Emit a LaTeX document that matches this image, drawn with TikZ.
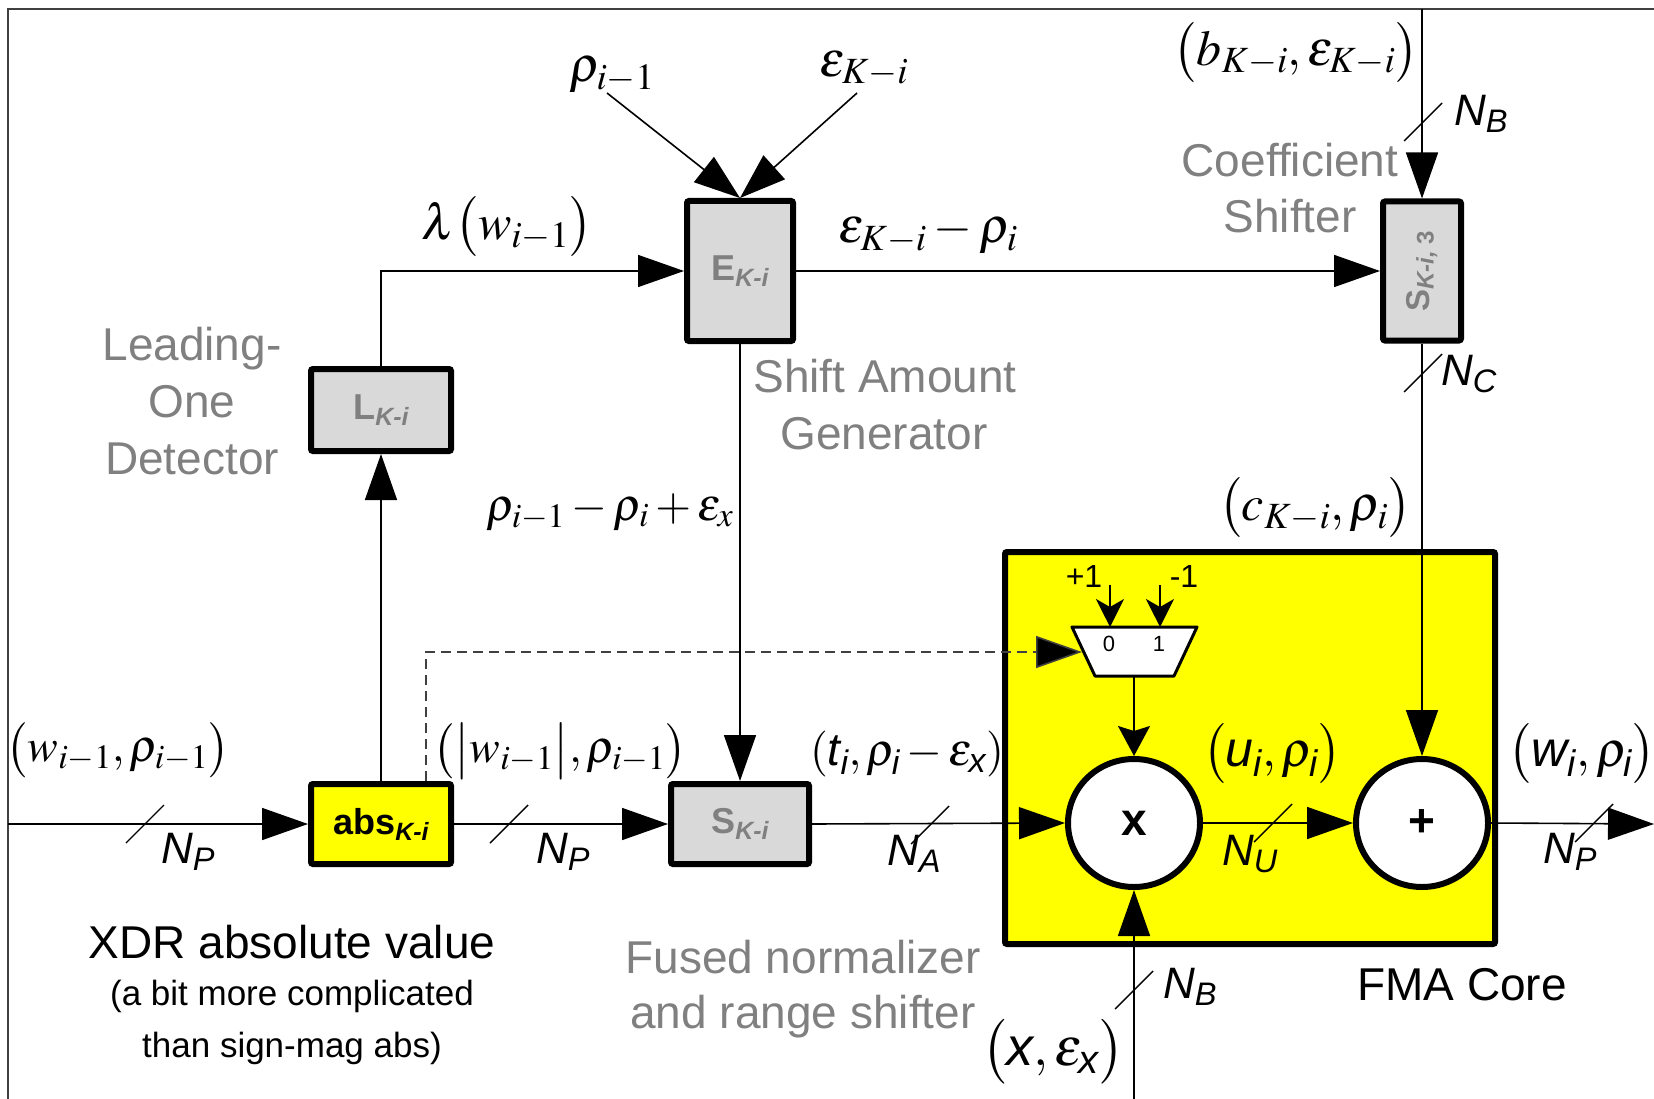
\documentclass[tikz,border=0pt]{standalone}
\usepackage{amsmath}
\usepackage{mathptmx}
\usepackage{fontspec}
\setmainfont{Liberation Sans}
\usetikzlibrary{arrows.meta,shapes.geometric}
\definecolor{boxgray}{HTML}{D9D9D9}
\definecolor{txtgray}{HTML}{808080}
\definecolor{fmayellow}{HTML}{FFFF00}
\definecolor{framegray}{HTML}{404040}
\newcommand{\blab}[2]{{\fontsize{36}{40}\selectfont\bfseries #1}\raisebox{-6pt}{\fontsize{25}{28}\selectfont\bfseries\itshape #2}}
\newcommand{\si}[1]{\textit{#1}}
\begin{document}
\begin{tikzpicture}[x=1pt,y=-1pt,
  wire/.style={line width=1.6pt},
  bigarrow/.style={wire,-{Triangle[length=46pt,width=32pt]}},
  midarrow/.style={wire,-{Stealth[length=30pt,width=32pt,inset=5pt]}},
  smallarrow/.style={wire,-{Stealth[length=28pt,width=28pt,inset=8pt]}},
  blk/.style={draw,line width=6pt,rounded corners=2pt,fill=boxgray,inner sep=0pt,text=txtgray},
  opnode/.style={draw,ellipse,line width=6pt,fill=white,minimum width=132pt,minimum height=128pt,inner sep=0pt,font=\fontsize{46}{50}\selectfont\bfseries},
  mlab/.style={font=\fontsize{50}{56}\selectfont,inner sep=0pt},
  slab/.style={font=\fontsize{46}{52}\selectfont,inner sep=0pt},
  tlab/.style={font=\fontsize{50}{56}\selectfont,inner sep=0pt},
  nlab/.style={font=\fontsize{44}{50}\selectfont,inner sep=0pt},
  gtxt/.style={font=\fontsize{46}{52}\selectfont,text=txtgray,anchor=base,inner sep=0pt},
  btxt/.style={font=\fontsize{46}{52}\selectfont,anchor=base,inner sep=0pt},
  stxt/.style={font=\fontsize{35}{40}\selectfont,anchor=base,inner sep=0pt},
  slash/.style={line width=1.4pt},
  dashwire/.style={line width=1.6pt,draw=framegray,dash pattern=on 10pt off 6pt,-{Triangle[length=46pt,width=32pt,fill=black]}}
]
\useasboundingbox (0,0) rectangle (1654,1099);
% frame
\coordinate (fTL) at (8,9);
\coordinate (fTR) at (1654,9);
\coordinate (fBL) at (8,1099);
\draw[line width=1.6pt,framegray] (fTR) -- (fTL) -- (fBL);

% FMA core
\node[draw,line width=6pt,fill=fmayellow,rounded corners=2pt,minimum width=490pt,minimum height=392pt,inner sep=0pt] (fma) at (1250,748) {};

% blocks
\node[blk,minimum width=106pt,minimum height=140pt] (E) at (740,271) {\blab{E}{K-i}};
\node[blk,minimum width=140pt,minimum height=82pt] (L) at (381,410) {\blab{L}{K-i}};
\node[blk,fill=fmayellow,text=black,minimum width=140pt,minimum height=80pt] (abs) at (381,824) {\blab{abs}{K-i}};
\node[blk,minimum width=138pt,minimum height=80pt] (S) at (740,824) {\blab{S}{K-i}};
\node[blk,minimum width=78pt,minimum height=139pt] (S3) at (1422,271) {\rotatebox{90}{{\fontsize{33}{35}\selectfont\bfseries S}\raisebox{-4pt}{\fontsize{24}{26}\selectfont\bfseries{\itshape K-i,} 3}}};
\node[opnode] (times) at (1134,823) {x};
\node[opnode] (plus) at (1422,823) {+};

% mux
\coordinate (muxTL) at (1072,627);
\coordinate (muxTR) at (1197,627);
\coordinate (muxBR) at (1174,676);
\coordinate (muxBL) at (1095,676);
\draw[line width=3pt,fill=white,line join=round] (muxTL) -- (muxTR) -- (muxBR) -- (muxBL) -- cycle;
\coordinate (mux0) at (1110,627);
\coordinate (mux1) at (1160,627);
\coordinate (muxout) at (1134,676);
\coordinate (muxleft) at (1082,652);
\node[font=\fontsize{22}{24}\selectfont,inner sep=0pt] (m0) at (1109,644) {0};
\node[font=\fontsize{22}{24}\selectfont,inner sep=0pt] (m1) at (1159,644) {1};
\coordinate (p1src) at (1110,585);
\coordinate (m1src) at (1160,585);
\node[font=\fontsize{32}{34}\selectfont,inner sep=0pt] (plusone) at (1084,576) {+1};
\node[font=\fontsize{32}{34}\selectfont,inner sep=0pt] (minusone) at (1184,576) {-1};
\draw[smallarrow] (p1src) -- (mux0);
\draw[smallarrow] (m1src) -- (mux1);
\draw[midarrow] (muxout) -- (times.north);

% external coordinates
\coordinate (inL) at (8,824);
\coordinate (outR) at (1654,824);
\coordinate (inB) at (1134,1099);
\coordinate (inT) at (1422,9);
\coordinate (rhoin) at (607,93);
\coordinate (epsin) at (857,93);
\coordinate (dashtop) at (426,652);

% wires
\draw[bigarrow] (inL) -- (abs.west);
\draw[bigarrow] (abs.east) -- (S.west);
\draw[bigarrow] (S.east) -- (times.west);
\draw[bigarrow] (times.east) -- (plus.west);
\draw[bigarrow] (plus.east) -- (outR);
\draw[bigarrow] (inB) -- (times.south);
\draw[bigarrow] (abs.north) -- (L.south);
\draw[bigarrow] (L.north) |- (E.west);
\draw[bigarrow] (rhoin) -- (E.north);
\draw[bigarrow] (epsin) -- (E.north);
\draw[bigarrow] (E.east) -- (S3.west);
\draw[bigarrow] (E.south) -- (S.north);
\draw[bigarrow] (inT) -- (S3.north);
\draw[bigarrow] (S3.south) -- (plus.north);
\draw[dashwire] (abs.north -| dashtop) -- (dashtop) -- (muxleft);

% bus-width slashes
\coordinate (s1) at (145,824);
\coordinate (s2) at (509,824);
\coordinate (sA) at (930,825);
\coordinate (sU) at (1273,823);
\coordinate (sP) at (1594,823);
\coordinate (sBt) at (1423,122);
\coordinate (sC) at (1423,373);
\coordinate (sBb) at (1134,990);
\foreach \n in {s1,s2,sA,sU,sP,sBt,sC,sBb}{
  \draw[slash] (\n) ++(-19,19) -- ++(38,-38);
}

% math labels
\node[mlab] (lrho) at (612,75) {$\rho_{i-1}$};
\node[mlab] (leps) at (864,69) {$\varepsilon_{K-i}$};
\node[mlab] (llam) at (507,227) {$\lambda\bigl(w_{i-1}\bigr)$};
\node[mlab] (lepsrho) at (928,234) {$\varepsilon_{K-i}-\rho_i$};
\node[mlab] (lbk) at (1296,53) {$\bigl(b_{K-i},\varepsilon_{K-i}\bigr)$};
\node[mlab] (lck) at (1315,508) {$\bigl(c_{K-i},\rho_i\bigr)$};
\node[slab] (lrhodiff) at (610,512) {$\rho_{i-1}-\rho_i+\varepsilon_x$};
\node[slab] (lw) at (118,750) {$\bigl(w_{i-1},\rho_{i-1}\bigr)$};
\node[slab] (labsw) at (560,751) {$\bigl(\bigl|w_{i-1}\bigr|,\rho_{i-1}\bigr)$};
\node[slab] (lt) at (907,754) {$(\si{t}_{\si{i}},\rho_{\si{i}}-\varepsilon_{\si{x}})$};
\node[tlab] (lu) at (1272,754) {$\bigl(\si{u}_{\si{i}},\rho_{\si{i}}\bigr)$};
\node[tlab] (lwi) at (1582,754) {$\bigl(\si{w}_{\si{i}},\rho_{\si{i}}\bigr)$};
\node[font=\fontsize{54}{60}\selectfont,inner sep=0pt] (lx) at (1053,1052) {$\bigl(\si{x},\varepsilon_{\si{x}}\bigr)$};

% bus widths
\node[nlab] (nbt) at (1481,114) {$\si{N}_{\si{B}}$};
\node[nlab] (nc) at (1469,374) {$\si{N}_{\si{C}}$};
\node[nlab] (np1) at (188,852) {$\si{N}_{\si{P}}$};
\node[nlab] (np2) at (563,852) {$\si{N}_{\si{P}}$};
\node[nlab] (na) at (914,854) {$\si{N}_{\si{A}}$};
\node[nlab] (nu) at (1250,854) {$\si{N}_{\si{U}}$};
\node[nlab] (np3) at (1570,852) {$\si{N}_{\si{P}}$};
\node[nlab] (nbb) at (1190,987) {$\si{N}_{\si{B}}$};

% descriptive texts
\node[gtxt] (lod1) at (192,360) {Leading-};
\node[gtxt] (lod2) at (192,417) {One};
\node[gtxt] (lod3) at (192,474) {Detector};
\node[gtxt] (sag1) at (885,392) {Shift Amount};
\node[gtxt] (sag2) at (884,449) {Generator};
\node[gtxt] (cs1) at (1290,177) {Coefficient};
\node[gtxt] (cs2) at (1290,233) {Shifter};
\node[gtxt] (fn1) at (803,973) {Fused normalizer};
\node[gtxt] (fn2) at (803,1028) {and range shifter};
\node[btxt] (fmacore) at (1462,1000) {FMA Core};
\node[btxt] (xdr) at (292,958) {XDR absolute value};
\node[stxt] (xdr2) at (292,1005) {(a bit more complicated};
\node[stxt] (xdr3) at (292,1057) {than sign-mag abs)};
\end{tikzpicture}
\end{document}
